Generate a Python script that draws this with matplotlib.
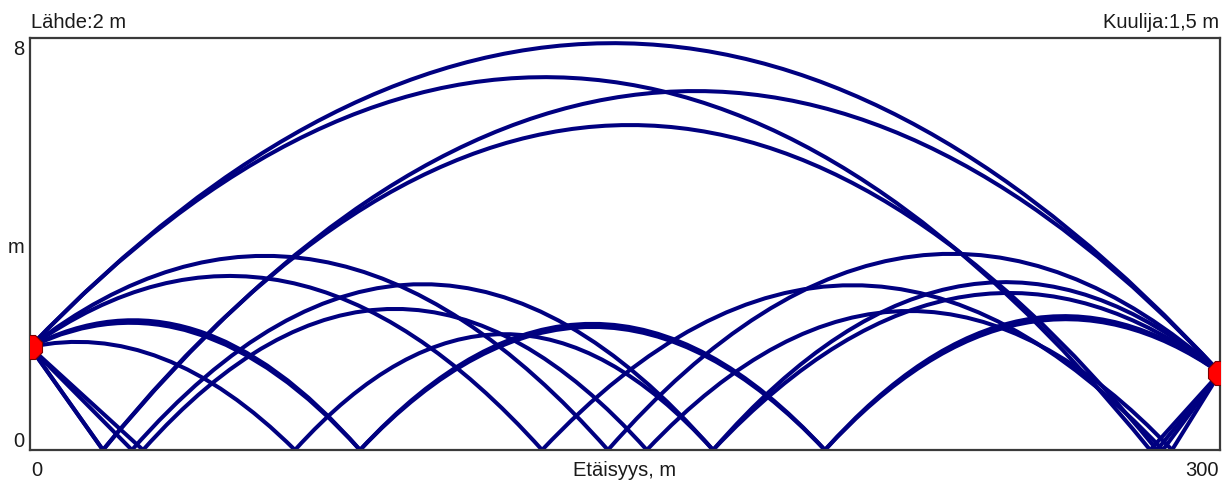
import numpy as np
import matplotlib
matplotlib.use("Agg")
import matplotlib.pyplot as plt
from matplotlib.path import Path
from matplotlib.patches import PathPatch

# ---------------- data ----------------
distance = 300.0          # m
source_height = 2.0       # m  (Lähde)
listener_height = 1.5     # m  (Kuulija)
y_max = 8.0

# ground reflection points of every ray (x in m)
ray_bounces = [
    [],                              # direct, high
    [282.4],                         # high, bounce near listener
    [18.4],                          # bounce near source, high
    [18.4, 284.1],                   # two bounces, high arc
    [145.7],                         # two medium arcs
    [129.1, 285.6],
    [25.7, 172.2],
    [28.5, 155.5, 287.9],
    [66.8, 172.2],                   # low arcs
    [83.2, 200.4],
    [83.2, 200.4],
]
# apex height of every arc segment (None = almost straight short leg)
ray_apex = [
    [7.90],
    [7.24, None],
    [None, 6.97],
    [None, 6.31, None],
    [3.77, 3.81],
    [3.38, 3.20, None],
    [None, 3.22, 3.26],
    [None, 2.74, 2.70, None],
    [2.10, 2.25, 3.05],
    [2.47, 2.39, 2.54],
    [2.52, 2.45, 2.60],
]

x_tick_labels = ["0", "300"]
y_tick_labels = ["0", "m", "8"]

# ---------------- drawing ----------------
W, H = 1231, 481
fig = plt.figure(figsize=(W / 100, H / 100), dpi=100)
ax = fig.add_axes([30 / W, 1 - 451 / H, 1190 / W, 412 / H])
ax.set_xlim(0, distance)
ax.set_ylim(0, y_max)
ax.set_xticks([])
ax.set_yticks([])
for s in ax.spines.values():
    s.set_color("#3a3a3a")
    s.set_linewidth(1.6)

ray_color = "#000080"


def arc_control(x0, y0, x1, y1, apex):
    """control point of the quadratic Bezier that equals the parabola
    through (x0,y0),(x1,y1) with the given apex height"""
    if apex is None:
        return (x0 + x1) / 2, (y0 + y1) / 2
    a = np.sqrt(max(apex - y0, 0.0))
    b = np.sqrt(max(apex - y1, 0.0))
    s = (a + b) / (x1 - x0)
    k = s * s
    xa = x0 + a / s
    slope0 = 2 * k * (xa - x0)
    return (x0 + x1) / 2, y0 + slope0 * (x1 - x0) / 2


for bounces, apexes in zip(ray_bounces, ray_apex):
    xs = [0.0] + list(bounces) + [distance]
    ys = [source_height] + [0.0] * len(bounces) + [listener_height]
    verts = [(xs[0], ys[0])]
    codes = [Path.MOVETO]
    for i, apex in enumerate(apexes):
        cx, cy = arc_control(xs[i], ys[i], xs[i + 1], ys[i + 1], apex)
        verts += [(cx, cy), (xs[i + 1], ys[i + 1])]
        codes += [Path.CURVE3, Path.CURVE3]
    patch = PathPatch(Path(verts, codes), fill=False, edgecolor=ray_color,
                      linewidth=2.9, joinstyle="miter", capstyle="butt")
    ax.add_patch(patch)

# source and listener markers
ax.plot([0, distance], [source_height, listener_height], linestyle="none",
        marker="8", markersize=18, markerfacecolor="#ff0000",
        markeredgecolor="#7a0000", markeredgewidth=0.8, zorder=5,
        clip_on=True)

font = dict(family=["Liberation Sans", "DejaVu Sans"], size=14.5,
            color="#1a1a1a")

# y labels
fig.text(24 / W, 1 - 55 / H, y_tick_labels[2], ha="right", va="baseline", **font)
fig.text(24 / W, 1 - 253 / H, y_tick_labels[1], ha="right", va="baseline", **font)
fig.text(24 / W, 1 - 447 / H, y_tick_labels[0], ha="right", va="baseline", **font)
# x labels
fig.text(31 / W, 1 - 476 / H, x_tick_labels[0], ha="left", va="baseline", **font)
fig.text(1219 / W, 1 - 476 / H, x_tick_labels[1], ha="right", va="baseline", **font)
fig.text(625 / W, 1 - 476 / H, "Etäisyys, m", ha="center", va="baseline", **font)
# headers
fig.text(31 / W, 1 - 28 / H, "Lähde:2 m", ha="left", va="baseline", **font)
fig.text(1219 / W, 1 - 28 / H, "Kuulija:1,5 m", ha="right", va="baseline", **font)

fig.savefig("out.png", dpi=100)
